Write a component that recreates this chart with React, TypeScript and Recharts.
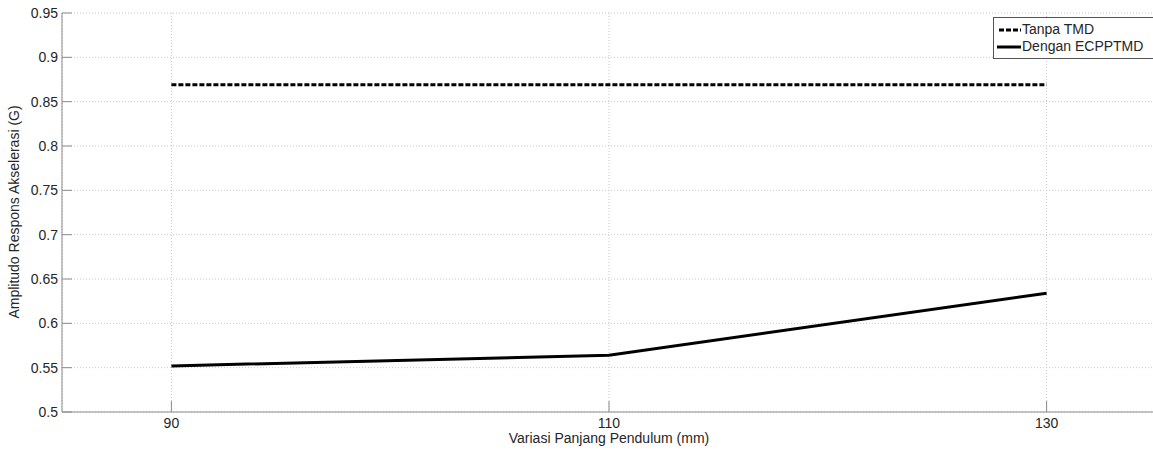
import React from "react";
import { LineChart, Line, XAxis, YAxis, CartesianGrid } from "recharts";

const lengths = [90, 110, 130];
const tanpaTmd = [0.869, 0.869, 0.869];
const denganEcpptmd = [0.552, 0.564, 0.634];
const xTicks = [90, 110, 130];
const yTicks = [0.5, 0.55, 0.6, 0.65, 0.7, 0.75, 0.8, 0.85, 0.9, 0.95];

const data = lengths.map((l, i) => ({ l, tanpa: tanpaTmd[i], dengan: denganEcpptmd[i] }));

const font = "'Liberation Sans', Arial, sans-serif";
const axisGray = "#8c8c8c";
const textColor = "#262626";

const XTick = (props: any) => {
  const { x, y, payload } = props;
  return (
    <g>
      <line x1={x} y1={y} x2={x} y2={y - 11} stroke={axisGray} strokeWidth={1} />
      <text x={x} y={y + 16} textAnchor="middle" fontSize={14} fontFamily={font} fill={textColor}>
        {payload.value}
      </text>
    </g>
  );
};

const YTick = (props: any) => {
  const { x, y, payload } = props;
  return (
    <g>
      <line x1={x} y1={y} x2={x + 10} y2={y} stroke={axisGray} strokeWidth={1} />
      <text x={x - 4} y={y + 5} textAnchor="end" fontSize={14} fontFamily={font} fill={textColor}>
        {payload.value}
      </text>
    </g>
  );
};

const LegendBox = () => (
  <div
    style={{
      position: "absolute",
      top: 17,
      left: 993,
      border: "1px solid #555",
      background: "#fff",
      fontFamily: font,
      fontSize: 14,
      color: textColor,
      padding: "3px 4px 3px 3px",
      lineHeight: "17px",
      width: 160,
    }}
  >
    <div style={{ display: "flex", alignItems: "center" }}>
      <svg width={24} height={6} style={{ marginRight: 1 }}>
        <line x1={2} y1={3} x2={24} y2={3} stroke="#000" strokeWidth={3} strokeDasharray="5 2" />
      </svg>
      Tanpa TMD
    </div>
    <div style={{ display: "flex", alignItems: "center" }}>
      <svg width={24} height={6} style={{ marginRight: 1 }}>
        <line x1={0} y1={3} x2={24} y2={3} stroke="#000" strokeWidth={3} />
      </svg>
      Dengan ECPPTMD
    </div>
  </div>
);

export default function App() {
  return (
    <div style={{ position: "fixed", top: 0, left: 0, width: 1153, height: 451, overflow: "hidden", background: "#fff" }}>
      <LineChart width={1166} height={451} data={data} margin={{ top: 13, right: 10, left: 0, bottom: 0 }}>
        <CartesianGrid stroke="#c8c8c8" strokeDasharray="1 2" />
        <XAxis
          dataKey="l"
          type="number"
          domain={[85, 135]}
          ticks={xTicks}
          height={39}
          stroke={axisGray}
          tickLine={false}
          tickSize={0}
          tickMargin={0}
          tick={<XTick />}
          label={{ value: "Variasi Panjang Pendulum (mm)", position: "insideBottom", offset: 8, fontSize: 14, fontFamily: font, fill: textColor }}
        />
        <YAxis
          type="number"
          domain={[0.5, 0.95]}
          ticks={yTicks}
          width={62}
          stroke={axisGray}
          tickLine={false}
          tickSize={0}
          tickMargin={0}
          tick={<YTick />}
          interval={0}
          label={{
            content: () => (
              <text
                x={19}
                y={212}
                transform="rotate(-90 19 212)"
                textAnchor="middle"
                fontSize={14}
                fontFamily={font}
                fill={textColor}
              >
                Amplitudo Respons Akselerasi (G)
              </text>
            ),
          }}
        />
        <Line
          type="linear"
          dataKey="tanpa"
          stroke="#000"
          strokeWidth={3}
          strokeDasharray="5 2"
          dot={false}
          isAnimationActive={false}
        />
        <Line
          type="linear"
          dataKey="dengan"
          stroke="#000"
          strokeWidth={3}
          dot={false}
          isAnimationActive={false}
        />
      </LineChart>
      <LegendBox />
    </div>
  );
}
